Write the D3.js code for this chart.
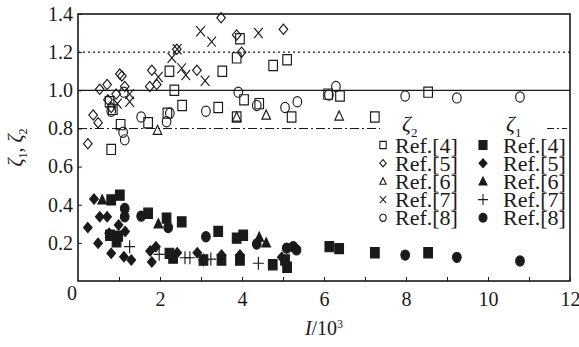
<!DOCTYPE html>
<html>
<head>
<meta charset="utf-8">
<script src="https://cdn.jsdelivr.net/npm/d3@7"></script>
<style>
  html, body { margin: 0; padding: 0; background: #fff; }
  svg { display: block; font-family: "Liberation Serif", "Times New Roman", serif; }
</style>
</head>
<body>
<div id="chart"></div>
<script>
// ── Data: [I/10^3, zeta] ─────────────────────────────────────────────────
// zeta_2 (open symbols)
const z2Ref4 = [[0.81,0.69],[0.85,0.90],[0.77,0.94],[1.04,0.82],[1.71,0.83],[2.18,0.88],[2.23,1.10],[2.35,1.00],
  [2.54,0.92],[3.42,0.91],[3.52,1.10],[3.87,1.17],[3.95,1.27],[4.05,0.95],[4.42,0.93],[3.87,0.86],[4.76,1.13],
  [5.10,1.16],[5.21,0.86],[6.10,0.98],[6.39,0.97],[7.24,0.86],[8.54,0.99]]
const z2Ref5 = [[0.24,0.72],[0.37,0.87],[0.49,0.83],[0.53,1.005],[0.71,1.03],[0.93,0.98],[1.02,1.085],[1.07,1.075],
  [1.14,1.02],[0.81,0.91],[0.73,0.95],[1.75,1.02],[1.80,1.105],[1.92,1.03],[2.41,1.215],[2.90,1.105],[3.49,1.38],
  [3.87,1.29],[3.99,1.20],[5.01,1.32]]
const z2Ref6 = [[1.94,0.79],[3.87,0.86],[4.59,0.87],[6.37,0.865]]
const z2Ref7 = [[0.96,0.93],[1.26,0.98],[1.26,0.94],[1.96,1.07],[2.29,1.17],[2.42,1.215],[2.53,1.115],[2.63,1.08],
  [2.99,1.31],[3.26,1.255],[3.10,1.05],[4.40,1.30]]
const z2Ref8 = [[0.81,0.89],[1.12,0.99],[1.10,0.78],[1.14,0.74],[1.54,0.86],[2.16,0.835],[2.24,0.88],[3.12,0.89],
  [3.91,0.99],[4.36,0.92],[5.05,0.91],[5.35,0.94],[6.29,1.02],[6.12,0.975],[7.98,0.97],[9.24,0.96],[10.78,0.965]]
// zeta_1 (filled symbols)
const z1Ref4 = [[0.81,0.425],[1.02,0.45],[0.78,0.24],[0.94,0.205],[0.98,0.235],[1.71,0.355],[2.16,0.33],[2.53,0.31],
  [3.42,0.26],[3.87,0.225],[4.03,0.24],[2.23,0.145],[2.32,0.12],[3.06,0.11],[3.50,0.11],[3.95,0.11],[4.75,0.085],
  [5.10,0.072],[5.05,0.11],[6.13,0.18],[6.37,0.17],[7.24,0.148],[8.54,0.148]]
const z1Ref5 = [[0.39,0.43],[0.53,0.337],[0.71,0.337],[0.24,0.28],[0.99,0.294],[0.49,0.198],[0.81,0.145],[1.12,0.127],
  [1.30,0.11],[0.76,0.25],[1.15,0.26],[1.76,0.157],[1.90,0.18],[1.80,0.10],[2.42,0.148],[2.91,0.148],[3.50,0.136],
  [3.95,0.136],[4.97,0.124]]
const z1Ref6 = [[0.59,0.425],[1.96,0.30],[4.42,0.23],[4.59,0.20]]
const z1Ref7 = [[1.26,0.18],[1.98,0.14],[2.61,0.122],[2.73,0.122],[3.06,0.11],[3.24,0.115],[4.40,0.093]]
const z1Ref8 = [[1.14,0.38],[1.14,0.337],[1.54,0.34],[2.20,0.28],[3.12,0.232],[4.36,0.194],[5.09,0.172],[5.25,0.18],
  [5.33,0.163],[7.98,0.136],[9.24,0.124],[10.78,0.105]]

const refLabels = ['Ref.[4]', 'Ref.[5]', 'Ref.[6]', 'Ref.[7]', 'Ref.[8]']
const xTicks = [2, 4, 6, 8, 10, 12]
const yTicks = [0.2, 0.4, 0.6, 0.8, 1.0, 1.2, 1.4]
const refLines = [{ v: 1.2, style: 'dot' }, { v: 1.0, style: 'solid' }, { v: 0.8, style: 'dashdot', end: 7.37 }]

const W = 579, H = 347
const m = { left: 78, right: 9, top: 14, bottom: 66 }
const ink = '#1a1a1a'

const svg = d3.select('#chart').append('svg').attr('width', W).attr('height', H)

const x = d3.scaleLinear().domain([0, 12]).range([m.left, W - m.right])
const y = d3.scaleLinear().domain([0, 1.4]).range([H - m.bottom, m.top])

// ── Reference lines ───────────────────────────────────────────────────────
const dash = { dot: '2,3', solid: null, dashdot: '9,3,2,3' }
refLines.forEach(r => {
  svg.append('line')
    .attr('x1', x(0)).attr('x2', x(r.end ?? 12))
    .attr('y1', y(r.v)).attr('y2', y(r.v))
    .attr('stroke', ink).attr('stroke-width', r.style === 'solid' ? 1.3 : 1.1)
    .attr('stroke-dasharray', dash[r.style])
})

// ── Axes ──────────────────────────────────────────────────────────────────
const xAxis = svg.append('g').attr('transform', `translate(0,${y(0)})`)
  .call(d3.axisBottom(x).tickValues(d3.range(1, 13)).tickSize(-4).tickPadding(6)
    .tickFormat(d => xTicks.includes(d) ? d : ''))
const yAxis = svg.append('g').attr('transform', `translate(${x(0)},0)`)
  .call(d3.axisLeft(y).tickValues(yTicks).tickSize(-4).tickPadding(5).tickFormat(d3.format('.1f')))
;[xAxis, yAxis].forEach(g => {
  g.attr('font-family', null).attr('font-size', null)
  g.select('.domain').remove()
  g.selectAll('line').attr('stroke', ink).attr('stroke-width', 1)
  g.selectAll('text').attr('fill', ink).style('font-size', '20px')
})
xAxis.selectAll('text').attr('dy', '0.95em')
svg.append('text').attr('x', x(0) - 6).attr('y', y(0) + 19).attr('text-anchor', 'middle')
  .attr('fill', ink).style('font-size', '20px').text('0')

// Frame
svg.append('rect').attr('x', x(0)).attr('y', y(1.4)).attr('width', x(12) - x(0)).attr('height', y(0) - y(1.4))
  .attr('fill', 'none').attr('stroke', ink).attr('stroke-width', 1.6)

// Axis titles
const xt = svg.append('text').attr('x', x(6)).attr('y', 335).attr('text-anchor', 'middle')
  .attr('fill', ink).style('font-size', '20px')
xt.append('tspan').style('font-style', 'italic').text('I')
xt.append('tspan').text('/10')
xt.append('tspan').attr('dy', -7).style('font-size', '12px').text('3')

const yt = svg.append('text').attr('transform', `translate(22,${(y(0) + y(1.4)) / 2}) rotate(-90)`)
  .attr('text-anchor', 'middle').attr('fill', ink).style('font-size', '20px')
yt.append('tspan').style('font-style', 'italic').text('ζ')
yt.append('tspan').attr('dy', 5).style('font-size', '12px').text('1')
yt.append('tspan').attr('dy', -5).text(', ')
yt.append('tspan').style('font-style', 'italic').text('ζ')
yt.append('tspan').attr('dy', 5).style('font-size', '12px').text('2')

// ── Markers ───────────────────────────────────────────────────────────────
function shapePath(shape, w, h) {
  switch (shape) {
    case 'square': return `M${-w},${-h}H${w}V${h}H${-w}Z`
    case 'diamond': return `M0,${-h}L${w},0L0,${h}L${-w},0Z`
    case 'triangle': return `M0,${-h}L${w},${h * 0.8}L${-w},${h * 0.8}Z`
    case 'x': return `M${-w},${-h}L${w},${h}M${w},${-h}L${-w},${h}`
    case 'plus': return `M${-w},0H${w}M0,${-h}V${h}`
    case 'circle': return `M${-w},0A${w},${h} 0 1,0 ${w},0A${w},${h} 0 1,0 ${-w},0Z`
  }
}
const shapes = ['square', 'diamond', 'triangle', 'x', 'circle']
const openSeries = [z2Ref4, z2Ref5, z2Ref6, z2Ref7, z2Ref8]
const filledSeries = [z1Ref4, z1Ref5, z1Ref6, z1Ref7, z1Ref8]
const filledShapes = ['square', 'diamond', 'triangle', 'plus', 'circle']

function drawMarks(data, shape, filled) {
  const lineOnly = shape === 'x' || shape === 'plus'
  svg.append('g').selectAll('path').data(data).join('path')
    .attr('transform', d => `translate(${x(d[0])},${y(d[1])})`)
    .attr('d', shapePath(shape, shape === 'plus' ? 5.5 : 4.3, shape === 'plus' ? 6.5 : 5.1))
    .attr('fill', filled && !lineOnly ? ink : 'none')
    .attr('stroke', ink).attr('stroke-width', 1.15)
}
openSeries.forEach((s, i) => drawMarks(s, shapes[i], false))
filledSeries.forEach((s, i) => drawMarks(s, filledShapes[i], true))

// ── Legend ────────────────────────────────────────────────────────────────
const zl = [{ x: 402, sub: '2' }, { x: 506, sub: '1' }]
zl.forEach(z => {
  const t = svg.append('text').attr('x', z.x).attr('y', 131).attr('fill', ink).style('font-size', '22px')
  t.append('tspan').style('font-style', 'italic').text('ζ')
  t.append('tspan').attr('dy', 6).style('font-size', '13px').text(z.sub)
})
svg.append('line').attr('x1', 547).attr('x2', 567).attr('y1', y(0.8)).attr('y2', y(0.8))
  .attr('stroke', ink).attr('stroke-width', 1.1).attr('stroke-dasharray', '7,3,2,3')

const cols = [{ sx: 383, tx: 395, shapes, filled: false }, { sx: 483, tx: 503, shapes: filledShapes, filled: true }]
cols.forEach(c => {
  refLabels.forEach((lab, i) => {
    const cy = 145 + i * 18.2
    const lineOnly = c.shapes[i] === 'x' || c.shapes[i] === 'plus'
    const sz = c.filled ? (lineOnly ? 5 : 4) : 3.2
    svg.append('path').attr('transform', `translate(${c.sx},${cy})`)
      .attr('d', shapePath(c.shapes[i], sz, c.filled && lineOnly ? 5.5 : sz + 0.4))
      .attr('fill', c.filled && !lineOnly ? ink : 'none')
      .attr('stroke', ink).attr('stroke-width', 1.1)
    svg.append('text').attr('x', c.tx).attr('y', cy + 7.5).attr('fill', ink)
      .style('font-size', '22px').text(lab)
  })
})
</script>
</body>
</html>
